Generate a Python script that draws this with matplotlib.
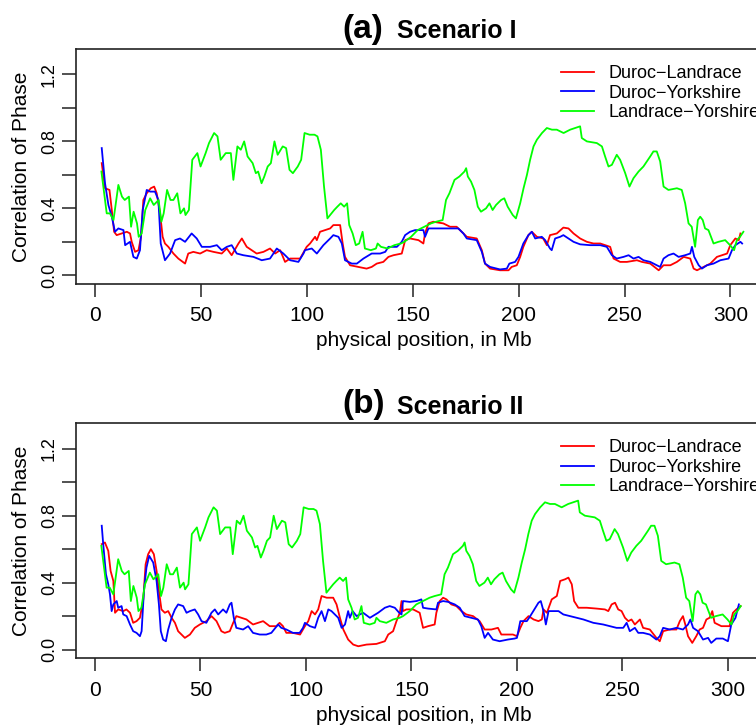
import matplotlib
matplotlib.use("Agg")
import matplotlib.pyplot as plt

plt.rcParams['font.family'] = ['Liberation Sans', 'DejaVu Sans']

# ---------------- data ----------------
xticks = [0, 50, 100, 150, 200, 250, 300]
yticks = [0.0, 0.2, 0.4, 0.6, 0.8, 1.0, 1.2]
ytick_labels = ['0.0', '', '0.4', '', '0.8', '', '1.2']
series_names = ['Duroc\u2212Landrace', 'Duroc\u2212Yorkshire', 'Landrace\u2212Yorshire']
series_colors = ['#FF0000', '#0000FF', '#00FF00']
panel_tags = ['(a)', '(b)']
panel_names = ['Scenario I', 'Scenario II']

# Landrace-Yorshire (same in both scenarios)
ly_x = [3, 5.5, 7, 8.7, 11, 12.7, 14, 16, 17, 18.2, 19.8, 20.6, 22, 23.7, 26, 27.7, 30, 31.3, 32.4, 34,
        35.6, 37, 38.8, 40.3, 42, 42.7, 44.3, 45.9, 48.3, 49.8, 52.2, 53.8, 56.2, 57.8, 59.3, 61.7, 64.1,
        65.3, 67.2, 68.8, 70.4, 72, 74.4, 75.9, 77, 78.6, 79.9, 81.5, 83, 84.7, 86.2, 88.6, 90.2, 91.8,
        93.4, 95.7, 97.3, 98.9, 101.3, 103.6, 105.0, 106.6, 108.1, 109.7, 112.9, 114.4, 116, 117.6, 119,
        120, 121.6, 123.1, 124.7, 126.3, 127.4, 130.2, 132.6, 133.4, 135, 138.1, 141.3, 144.4, 146, 149.2,
        152.3, 155.5, 158.6, 161, 164.1, 165.7, 167.3, 169.7, 172, 174.4, 175.2, 176, 177.5, 179.1, 180.7,
        182.2, 184.6, 186.2, 187.7, 189.3, 191.7, 193.2, 194.8, 197.2, 198.7, 200.7, 202.3, 203.9, 205.4,
        207, 208.6, 211, 213.3, 215.7, 218, 221.2, 224.3, 229, 229.8, 232.2, 236.9, 239.3, 240.8, 242.4,
        244, 246.3, 247.9, 250.3, 252.3, 254.2, 256.6, 258.9, 262.1, 263.6, 265.2, 266.8, 268.4, 270.7,
        274.7, 277, 278.6, 280.2, 281.7, 283.3, 284.6, 285.7, 286.9, 288, 289.6, 292, 294.3, 297.5, 299.8,
        301.7, 303, 304.5, 306.1]
ly_y = [0.62, 0.37, 0.37, 0.33, 0.54, 0.47, 0.45, 0.47, 0.29, 0.38, 0.31, 0.23, 0.25, 0.39, 0.46, 0.42,
        0.45, 0.32, 0.37, 0.51, 0.45, 0.45, 0.49, 0.37, 0.40, 0.36, 0.39, 0.69, 0.73, 0.65, 0.73, 0.79,
        0.85, 0.83, 0.69, 0.73, 0.73, 0.57, 0.77, 0.75, 0.80, 0.71, 0.67, 0.61, 0.62, 0.55, 0.59, 0.65,
        0.67, 0.80, 0.72, 0.77, 0.76, 0.63, 0.61, 0.65, 0.69, 0.85, 0.84, 0.84, 0.83, 0.75, 0.53, 0.34,
        0.39, 0.41, 0.43, 0.41, 0.43, 0.30, 0.25, 0.18, 0.19, 0.26, 0.16, 0.15, 0.16, 0.19, 0.17, 0.16,
        0.18, 0.19, 0.20, 0.23, 0.27, 0.29, 0.31, 0.32, 0.33, 0.45, 0.49, 0.57, 0.59, 0.62, 0.64, 0.59,
        0.56, 0.51, 0.41, 0.38, 0.40, 0.43, 0.39, 0.42, 0.45, 0.46, 0.41, 0.36, 0.34, 0.43, 0.52, 0.60,
        0.69, 0.77, 0.81, 0.85, 0.88, 0.87, 0.87, 0.85, 0.87, 0.89, 0.82, 0.80, 0.79, 0.77, 0.71, 0.65,
        0.66, 0.72, 0.69, 0.61, 0.53, 0.58, 0.62, 0.65, 0.71, 0.74, 0.74, 0.68, 0.53, 0.51, 0.52, 0.51,
        0.43, 0.31, 0.29, 0.17, 0.33, 0.35, 0.33, 0.28, 0.27, 0.19, 0.20, 0.21, 0.18, 0.15, 0.21, 0.23,
        0.26]

# Scenario I, Duroc-Landrace
dl_a_x = [3.15, 4.7, 6.8, 7.9, 9, 10.2, 12.6, 15, 16.5, 17.3, 18.9, 20.5, 21.7, 22.8, 24.4, 26.3, 27.9,
          29.1, 30.7, 31.9, 33, 34.6, 37, 39.3, 42.5, 44, 46.4, 49.6, 52.7, 55.9, 59.8, 62.2, 64.5, 67.7,
          69.3, 71.6, 76.3, 79.5, 82.6, 85, 87.4, 89.7, 92.1, 96.8, 99.9, 101.5, 103.9, 104.7, 106.2,
          108.6, 111, 112.5, 115.7, 116.9, 118, 120.4, 124.3, 128.2, 130.6, 133, 136.1, 138.5, 140.9,
          144.8, 146.4, 148.7, 152.7, 155, 155.8, 157.4, 159.7, 164.4, 167.6, 170.7, 173.1, 175.5, 180.2,
          182.6, 184.1, 186.5, 191.2, 195.2, 196.7, 199.1, 200.7, 202.2, 204.6, 206.2, 208.6, 211.6,
          213.3, 214.8, 218, 221.1, 223.5, 225.9, 229, 232.2, 235.3, 238.5, 243.2, 244.8, 247.9, 251.1,
          255.8, 258.2, 262.1, 266.1, 268.4, 271.6, 274.7, 277.9, 281, 282.6, 284.2, 287.3, 290.5, 293.6,
          298.4, 299.9, 302.3, 303.9, 304.7]
dl_a_y = [0.67, 0.52, 0.51, 0.39, 0.26, 0.24, 0.25, 0.26, 0.25, 0.20, 0.14, 0.15, 0.23, 0.45, 0.49, 0.52,
          0.53, 0.49, 0.37, 0.23, 0.19, 0.17, 0.13, 0.10, 0.07, 0.13, 0.14, 0.13, 0.15, 0.14, 0.13, 0.16,
          0.12, 0.19, 0.22, 0.17, 0.13, 0.14, 0.16, 0.13, 0.15, 0.08, 0.10, 0.10, 0.17, 0.19, 0.23, 0.21,
          0.26, 0.27, 0.28, 0.30, 0.30, 0.19, 0.11, 0.06, 0.05, 0.04, 0.05, 0.07, 0.08, 0.11, 0.12, 0.13,
          0.21, 0.22, 0.21, 0.19, 0.25, 0.31, 0.32, 0.31, 0.29, 0.29, 0.26, 0.23, 0.22, 0.15, 0.07, 0.04,
          0.03, 0.03, 0.05, 0.06, 0.11, 0.17, 0.24, 0.26, 0.23, 0.22, 0.18, 0.24, 0.25, 0.285, 0.28, 0.25,
          0.22, 0.20, 0.19, 0.19, 0.17, 0.10, 0.08, 0.08, 0.09, 0.08, 0.07, 0.03, 0.06, 0.06, 0.08, 0.11,
          0.10, 0.04, 0.03, 0.05, 0.07, 0.11, 0.13, 0.18, 0.22, 0.21, 0.25]

# Scenario I, Duroc-Yorkshire
dy_a_x = [3.15, 4.7, 6.3, 7.9, 9.4, 11, 13.4, 14.2, 16.5, 18.1, 19.7, 21.2, 22.5, 24.4, 26, 28.3, 29.9,
          31, 33, 35.4, 37.8, 40.1, 42.5, 45.6, 48, 50.4, 54.3, 57.5, 59.8, 62.2, 64.5, 66.9, 70, 74.8,
          78.7, 82.6, 85.8, 88.9, 92.1, 96, 98.4, 99.1, 102.3, 104.7, 107.8, 111, 112.5, 114.9, 116.5,
          118, 121.2, 123.6, 126.7, 130.6, 134.6, 137, 138.5, 142.5, 144.8, 146.4, 148.7, 151.1, 155,
          155.8, 157.4, 164.4, 171.5, 173.9, 175.5, 180.2, 182.6, 184.1, 186.5, 191.2, 194.4, 195.6,
          198.3, 199.9, 202.2, 204.6, 206.2, 207.8, 210.9, 212.5, 214.8, 215.6, 217.2, 219.6, 221.1,
          223.5, 225.9, 229, 233.7, 238.5, 241.6, 244, 246.3, 249.5, 251.9, 254.2, 256.6, 258.9, 262.1,
          265.2, 266.8, 268.4, 270.7, 273.1, 275.5, 278.6, 281, 281.8, 282.9, 285, 286.5, 288.9, 292,
          295.2, 299.1, 300.7, 302.3, 304.7, 305.5]
dy_a_y = [0.76, 0.55, 0.42, 0.35, 0.26, 0.28, 0.27, 0.18, 0.20, 0.11, 0.10, 0.15, 0.39, 0.51, 0.50, 0.50,
          0.45, 0.19, 0.09, 0.13, 0.21, 0.22, 0.20, 0.25, 0.22, 0.17, 0.17, 0.18, 0.15, 0.17, 0.18, 0.13,
          0.12, 0.11, 0.09, 0.10, 0.16, 0.13, 0.09, 0.08, 0.13, 0.15, 0.16, 0.13, 0.18, 0.22, 0.24, 0.23,
          0.19, 0.09, 0.07, 0.07, 0.10, 0.13, 0.13, 0.14, 0.17, 0.17, 0.20, 0.24, 0.26, 0.27, 0.27, 0.23,
          0.28, 0.28, 0.28, 0.25, 0.22, 0.21, 0.14, 0.07, 0.05, 0.035, 0.04, 0.07, 0.08, 0.11, 0.19, 0.24,
          0.26, 0.22, 0.23, 0.21, 0.16, 0.15, 0.22, 0.23, 0.24, 0.22, 0.20, 0.185, 0.18, 0.18, 0.17, 0.12,
          0.10, 0.11, 0.12, 0.10, 0.11, 0.09, 0.08, 0.06, 0.05, 0.10, 0.12, 0.13, 0.11, 0.12, 0.13, 0.17,
          0.11, 0.06, 0.04, 0.06, 0.07, 0.09, 0.10, 0.15, 0.18, 0.20, 0.19]

# Scenario II, Duroc-Landrace
dl_b_x = [3.2, 4.7, 6.3, 7.4, 8.7, 9.5, 11, 13.4, 14.9, 16.6, 18.1, 19.7, 21.3, 22.9, 24, 25.2, 26.5, 27.9,
          29.2, 30.3, 31.5, 33.1, 34.7, 36.3, 37.9, 39.4, 42.6, 45, 47.3, 49.7, 52.8, 55.2, 57.6, 59.9,
          61.5, 63.9, 65.5, 67, 69.4, 71.8, 74.9, 77.3, 79.7, 82.8, 86, 87.5, 89.1, 90.7, 93.8, 97.2, 99.5,
          101.1, 102.7, 104.3, 105.8, 107.4, 109.8, 112.9, 114.5, 116.1, 117.7, 120, 122.4, 124.8, 128.7,
          133.4, 137.4, 139, 141.3, 142.9, 144.5, 145.3, 146, 147.6, 150.8, 153.9, 155.5, 157.9, 161,
          161.8, 163.4, 165, 166.6, 168.9, 171.3, 173.7, 176, 179.2, 182.3, 184.7, 187.9, 191, 192.6,
          195.7, 198.1, 200, 201.6, 203.1, 205.5, 207.9, 210.2, 211.8, 212.6, 214.2, 216.5, 218.9, 220.5,
          222.8, 224.4, 226, 227.1, 229.1, 233.1, 237.8, 241.7, 243.3, 244.9, 246.5, 248, 249.6, 251.2,
          252.8, 254.3, 255.9, 258.3, 259.8, 263, 266.1, 267.7, 269.3, 272.4, 275.6, 277.2, 278.7, 279.8,
          281.1, 283.1, 285, 286.6, 288.2, 289.8, 291.3, 292.6, 293.7, 296.9, 300.8, 302.4, 304, 306]
dl_b_y = [0.63, 0.64, 0.59, 0.47, 0.41, 0.22, 0.24, 0.23, 0.24, 0.22, 0.16, 0.17, 0.19, 0.30, 0.51, 0.57,
          0.60, 0.57, 0.47, 0.35, 0.24, 0.22, 0.23, 0.19, 0.16, 0.11, 0.07, 0.09, 0.13, 0.15, 0.17, 0.20,
          0.17, 0.11, 0.10, 0.11, 0.16, 0.20, 0.19, 0.18, 0.15, 0.16, 0.17, 0.14, 0.14, 0.16, 0.14, 0.10,
          0.10, 0.09, 0.14, 0.17, 0.23, 0.21, 0.24, 0.32, 0.31, 0.31, 0.27, 0.19, 0.12, 0.06, 0.03, 0.02,
          0.03, 0.034, 0.05, 0.09, 0.11, 0.17, 0.22, 0.29, 0.23, 0.24, 0.24, 0.22, 0.13, 0.14, 0.15, 0.22,
          0.29, 0.31, 0.30, 0.27, 0.26, 0.23, 0.21, 0.20, 0.17, 0.12, 0.12, 0.13, 0.09, 0.09, 0.09, 0.08,
          0.13, 0.17, 0.20, 0.18, 0.17, 0.18, 0.24, 0.22, 0.30, 0.32, 0.41, 0.42, 0.43, 0.39, 0.29, 0.25,
          0.25, 0.245, 0.24, 0.23, 0.27, 0.28, 0.24, 0.23, 0.19, 0.17, 0.18, 0.15, 0.18, 0.13, 0.12, 0.07,
          0.05, 0.11, 0.12, 0.12, 0.17, 0.20, 0.15, 0.08, 0.04, 0.08, 0.12, 0.13, 0.18, 0.19, 0.23, 0.16,
          0.14, 0.14, 0.22, 0.24, 0.26]

# Scenario II, Duroc-Yorkshire
dy_b_x = [3.2, 3.9, 5.2, 6.3, 7.1, 7.9, 8.7, 10.3, 11, 12.6, 13.4, 15, 16.6, 18.1, 19.7, 21.3, 22.1, 23.2,
          24.4, 25.7, 27.6, 29.2, 30.3, 31.2, 32.3, 33.6, 34.7, 36.3, 37.9, 39.4, 41.8, 43.4, 45, 47.3,
          48.9, 50.5, 52.8, 55.2, 56.8, 58.4, 60.7, 62.3, 63.9, 64.7, 65.8, 67, 70.2, 72.6, 74.9, 78.1,
          81.2, 83.6, 86.8, 88.3, 90.7, 93.8, 97, 98.6, 99.5, 101.9, 104.3, 105.8, 107.4, 109, 110.6,
          112.1, 113.7, 115.3, 116.9, 118.5, 120, 120.8, 122.1, 124, 127.1, 130.3, 134.2, 137.4, 139.7,
          142.1, 144.2, 145.3, 146, 149.2, 152.4, 154.7, 155.5, 157.9, 161.8, 162.6, 165, 167.4, 170.5,
          172.9, 175.2, 178.4, 181.5, 183.1, 184.7, 186.3, 188.6, 191.8, 195.7, 198.9, 200, 201.6, 204.7,
          206.3, 208.7, 210.2, 211.3, 212.6, 213.7, 215, 217.3, 219.7, 222, 225.2, 228.3, 231.5, 236.2,
          240.9, 244.1, 247.2, 250.4, 252, 253.5, 255.9, 257.5, 259.8, 263, 266.1, 267.7, 269.3, 272.4,
          275.6, 278.7, 281.1, 282.2, 283.5, 285.8, 288.2, 290.6, 292.1, 294.5, 297.6, 300, 301.6, 303.6,
          305.2]
dy_b_y = [0.74, 0.63, 0.45, 0.39, 0.33, 0.23, 0.27, 0.29, 0.25, 0.26, 0.21, 0.20, 0.15, 0.11, 0.10, 0.08,
          0.11, 0.35, 0.49, 0.56, 0.52, 0.41, 0.27, 0.11, 0.06, 0.05, 0.12, 0.19, 0.24, 0.27, 0.26, 0.22,
          0.23, 0.24, 0.21, 0.17, 0.16, 0.22, 0.24, 0.21, 0.24, 0.22, 0.27, 0.28, 0.19, 0.13, 0.12, 0.14,
          0.10, 0.09, 0.09, 0.10, 0.15, 0.13, 0.12, 0.10, 0.10, 0.13, 0.16, 0.14, 0.13, 0.19, 0.23, 0.17,
          0.24, 0.23, 0.21, 0.19, 0.13, 0.15, 0.23, 0.19, 0.23, 0.20, 0.22, 0.19, 0.22, 0.25, 0.26, 0.25,
          0.22, 0.21, 0.29, 0.285, 0.29, 0.30, 0.25, 0.245, 0.24, 0.28, 0.29, 0.285, 0.27, 0.25, 0.20,
          0.19, 0.18, 0.14, 0.07, 0.10, 0.06, 0.05, 0.06, 0.066, 0.07, 0.17, 0.17, 0.20, 0.25, 0.28, 0.29,
          0.23, 0.15, 0.23, 0.23, 0.23, 0.21, 0.20, 0.19, 0.18, 0.16, 0.15, 0.14, 0.13, 0.13, 0.16, 0.11,
          0.13, 0.10, 0.10, 0.09, 0.06, 0.08, 0.13, 0.12, 0.13, 0.12, 0.15, 0.18, 0.13, 0.11, 0.06, 0.07,
          0.04, 0.066, 0.066, 0.05, 0.15, 0.19, 0.27]

panels = [
    [(dl_a_x, dl_a_y), (dy_a_x, dy_a_y), (ly_x, ly_y)],
    [(dl_b_x, dl_b_y), (dy_b_x, dy_b_y), (ly_x, ly_y)],
]

# ---------------- layout ----------------
W, H = 756, 726
fig = plt.figure(figsize=(W / 100, H / 100), dpi=100)

ax_left_px, ax_right_px = 76, 772
tops_px = [49, 423.3]
bots_px = [284, 658.3]
xlims = [(-9.0, 319.6), (-9.0, 320.9)]
title_base_px = [38.3, 413.5]

for i in range(2):
    ax = fig.add_axes([ax_left_px / W, 1 - bots_px[i] / H,
                       (ax_right_px - ax_left_px) / W, (bots_px[i] - tops_px[i]) / H])
    for (xs, ys), name, col in zip(panels[i], series_names, series_colors):
        ax.plot(xs, ys, color=col, lw=1.3, label=name, solid_joinstyle='round')
    ax.set_xlim(*xlims[i])
    ax.set_ylim(-0.052, 1.352)
    ax.set_xticks(xticks)
    ax.set_xticklabels([str(t) for t in xticks], fontsize=15)
    ax.set_yticks(yticks)
    ax.set_yticklabels(ytick_labels, fontsize=13, rotation=90, va='center')
    ax.tick_params(axis='x', length=9.5, width=1.1, pad=6.5, colors='#222222', labelcolor='black')
    ax.tick_params(axis='y', length=10, width=1.1, pad=3, colors='#222222', labelcolor='black')
    for s in ax.spines.values():
        s.set_linewidth(1.2)
        s.set_color('#222222')
    ax.text(0.5, -57 / (bots_px[i] - tops_px[i]), 'physical position, in Mb',
            transform=ax.transAxes, ha='center', va='center', fontsize=15)
    ax.text((22 - ax_left_px) / (ax_right_px - ax_left_px), 0.5, 'Correlation of Phase',
            transform=ax.transAxes, ha='center', va='center', rotation=90, fontsize=15)
    ax.legend(loc='upper left', bbox_to_anchor=((561 - ax_left_px) / (ax_right_px - ax_left_px),
                                                1 - 16 / (bots_px[i] - tops_px[i])),
              frameon=False, fontsize=13, handlelength=1.8, handletextpad=0.85,
              labelspacing=0.14, borderpad=0, borderaxespad=0)
    fig.text(342 / W, 1 - title_base_px[i] / H, panel_tags[i], fontsize=24, fontweight='bold',
             ha='left', va='baseline')
    fig.text(397 / W, 1 - title_base_px[i] / H, panel_names[i], fontsize=18, fontweight='bold',
             ha='left', va='baseline')

fig.savefig('out.png', dpi=100)
